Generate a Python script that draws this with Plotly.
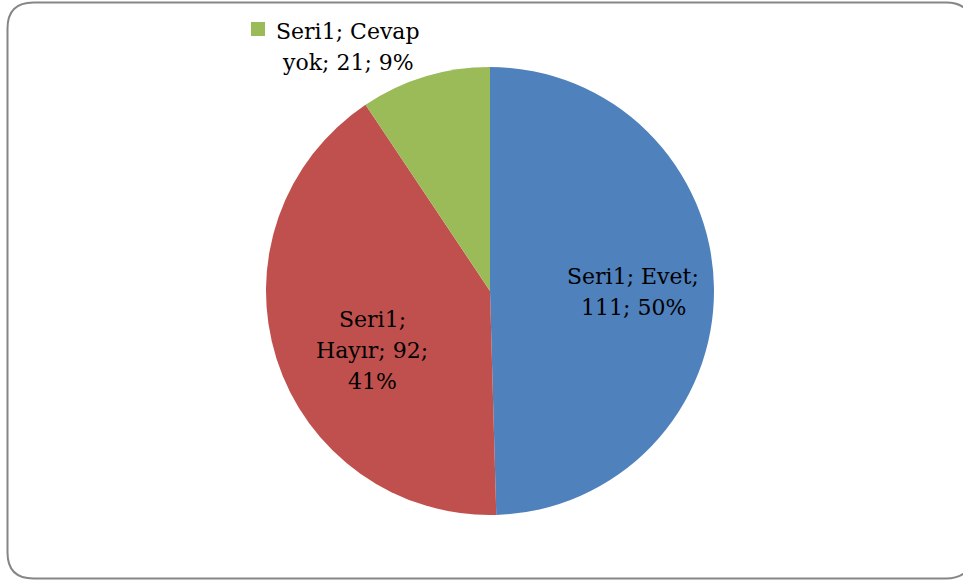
import plotly.graph_objects as go

# Survey answers
series_name = "Seri1"
categories = ["Evet", "Hayır", "Cevap yok"]
values = [111, 92, 21]
colors = ["#4F81BD", "#C0504D", "#9BBB59"]

W, H = 963, 581
total = sum(values)
pcts = [round(v * 100 / total) for v in values]

# label text for each slice, split into the lines shown on the chart
label_lines = [
    [f"{series_name}; {categories[0]};", f"{values[0]}; {pcts[0]}%"],
    [f"{series_name};", f"{categories[1]}; {values[1]};", f"{pcts[1]}%"],
    [f"{series_name}; Cevap", f"yok; {values[2]}; {pcts[2]}%"],
]
# pixel anchor (centre x, centre y of first line) for each label block
label_pos = [(633, 274.5), (372, 317), (348, 29.5)]
line_gap = 31

FONT = "DejaVu Serif"
FSIZE = 22

def px(x):
    return x / W

def py(y):
    return 1 - y / H

cx, cy, r = 490, 291, 224

fig = go.Figure(
    go.Pie(
        labels=categories,
        values=values,
        marker=dict(colors=colors, line=dict(width=0)),
        sort=False,
        direction="clockwise",
        rotation=0,
        textinfo="none",
        hoverinfo="label+value+percent",
        showlegend=False,
        domain=dict(x=[px(cx - r), px(cx + r)], y=[py(cy + r), py(cy - r)]),
    )
)

annotations = []
for lines, (x0, y0) in zip(label_lines, label_pos):
    for i, t in enumerate(lines):
        annotations.append(
            dict(
                x=px(x0), y=py(y0 + i * line_gap + 2),
                xref="paper", yref="paper",
                text=t, showarrow=False,
                xanchor="center", yanchor="middle",
                font=dict(family=FONT, size=FSIZE, color="#000000"),
            )
        )

shapes = []
# legend key square next to the outside label
shapes.append(dict(
    type="rect", xref="paper", yref="paper",
    x0=px(251), x1=px(265), y0=py(36), y1=py(22),
    fillcolor=colors[2], line=dict(width=0),
))

# rounded chart frame
L, T, R, B, rad = 7.5, 2.5, 972, 578.5, 26
path = (
    f"M {px(L + rad)},{py(T)} L {px(R - rad)},{py(T)} "
    f"Q {px(R)},{py(T)} {px(R)},{py(T + rad)} "
    f"L {px(R)},{py(B - rad)} Q {px(R)},{py(B)} {px(R - rad)},{py(B)} "
    f"L {px(L + rad)},{py(B)} Q {px(L)},{py(B)} {px(L)},{py(B - rad)} "
    f"L {px(L)},{py(T + rad)} Q {px(L)},{py(T)} {px(L + rad)},{py(T)} Z"
)
shapes.append(dict(
    type="path", xref="paper", yref="paper", path=path,
    line=dict(color="#868686", width=2), fillcolor="rgba(0,0,0,0)",
))

fig.update_layout(
    width=W, height=H,
    margin=dict(l=0, r=0, t=0, b=0),
    paper_bgcolor="white",
    plot_bgcolor="white",
    annotations=annotations,
    shapes=shapes,
)

fig.write_html("out.html")
